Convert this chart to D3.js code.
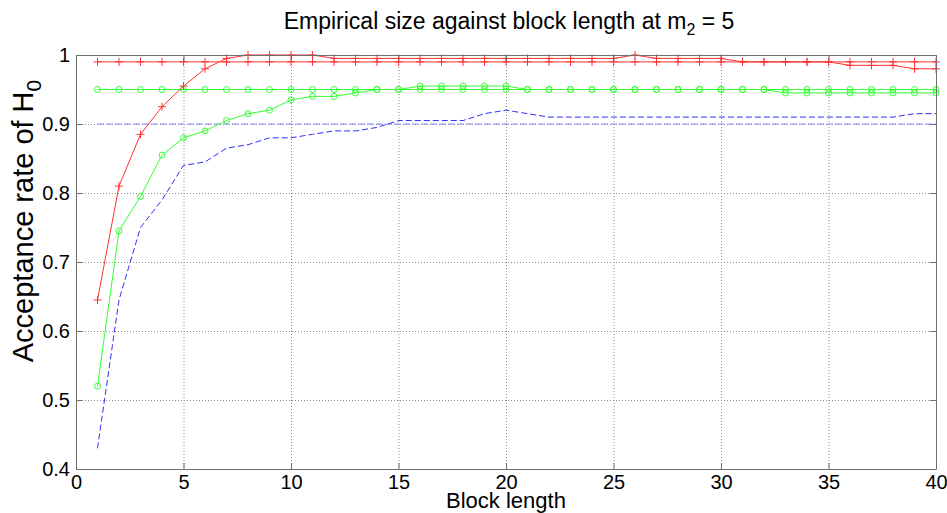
<!DOCTYPE html>
<html>
<head>
<meta charset="utf-8">
<script src="https://cdn.jsdelivr.net/npm/d3@7"></script>
<style>
  html, body { margin: 0; padding: 0; background: #fff; }
  svg { display: block; font-family: 'Liberation Sans', Arial, sans-serif; }
</style>
</head>
<body>
<svg id="chart" width="947" height="513"></svg>
<script>
const blockLengths = d3.range(1, 41);
const xTicks = [0, 5, 10, 15, 20, 25, 30, 35, 40];
const yTicks = [0.4, 0.5, 0.6, 0.7, 0.8, 0.9, 1];

// red '+' series and its nominal level
const redRate = [0.645, 0.81, 0.885, 0.925, 0.955, 0.98, 0.995, 1, 1, 1, 1,
  0.995, 0.995, 0.995, 0.995, 0.995, 0.995, 0.995, 0.995, 0.995, 0.995, 0.995, 0.995, 0.995, 0.995,
  1, 0.995, 0.995, 0.995, 0.995, 0.99, 0.99, 0.99, 0.99, 0.99, 0.985, 0.985, 0.985, 0.98, 0.98];
const redLevel = 0.99;

// green 'o' series and its nominal level
const greenRate = [0.52, 0.745, 0.795, 0.855, 0.88, 0.89, 0.905, 0.915, 0.92, 0.935, 0.94, 0.94, 0.945, 0.95, 0.95,
  0.955, 0.955, 0.955, 0.955, 0.955,
  0.95, 0.95, 0.95, 0.95, 0.95, 0.95, 0.95, 0.95, 0.95, 0.95, 0.95, 0.95,
  0.945, 0.945, 0.945, 0.945, 0.945, 0.945, 0.945, 0.945];
const greenLevel = 0.95;

// blue dashed series and its nominal level
const blueRate = [0.43, 0.645, 0.75, 0.79, 0.84, 0.845, 0.865, 0.87, 0.88, 0.88, 0.885, 0.89, 0.89, 0.895,
  0.905, 0.905, 0.905, 0.905, 0.915, 0.92, 0.915,
  0.91, 0.91, 0.91, 0.91, 0.91, 0.91, 0.91, 0.91, 0.91, 0.91, 0.91, 0.91, 0.91, 0.91, 0.91, 0.91, 0.91,
  0.915, 0.915];
const blueLevel = 0.9;

const margin = { left: 76, right: 11, top: 55, bottom: 44 };
const width = 947, height = 513;
const svg = d3.select('#chart');
const x = d3.scaleLinear().domain([0, 40]).range([margin.left, width - margin.right]);
const y = d3.scaleLinear().domain([0.4, 1]).range([height - margin.bottom, margin.top]);

const gridColor = '#8c8c8c';
const axisColor = '#6e6e6e';

// grid
xTicks.slice(1, -1).forEach(t => {
  svg.append('line').attr('x1', x(t) + 0.5).attr('x2', x(t) + 0.5).attr('y1', y(1)).attr('y2', y(0.4))
    .attr('stroke', gridColor).attr('stroke-width', 1).attr('stroke-dasharray', '1,2');
});
yTicks.slice(1, -1).forEach(t => {
  svg.append('line').attr('x1', x(0)).attr('x2', x(40)).attr('y1', Math.round(y(t)) + 0.5).attr('y2', Math.round(y(t)) + 0.5)
    .attr('stroke', gridColor).attr('stroke-width', 1).attr('stroke-dasharray', '1,2');
});

const line = d3.line().x((d, i) => x(blockLengths[i])).y(d => y(d));
const flat = v => blockLengths.map(() => v);

function drawSeries(values, color, dash, marker) {
  svg.append('path').datum(values).attr('d', line).attr('fill', 'none')
    .attr('stroke', color).attr('stroke-width', 1).attr('stroke-dasharray', dash);
  if (marker === 'plus') {
    values.forEach((v, i) => {
      const cx = x(blockLengths[i]), cy = y(v);
      svg.append('path').attr('d', `M${cx - 4},${cy}H${cx + 4}M${cx},${cy - 4}V${cy + 4}`)
        .attr('stroke', color).attr('stroke-width', 1).attr('fill', 'none');
    });
  } else if (marker === 'circle') {
    values.forEach((v, i) => {
      svg.append('circle').attr('cx', x(blockLengths[i])).attr('cy', y(v)).attr('r', 3)
        .attr('stroke', color).attr('stroke-width', 1).attr('fill', 'none');
    });
  }
}

drawSeries(flat(blueLevel), '#8080ff', '6,3', null);
drawSeries(blueRate, '#3030ff', '6,3', null);
drawSeries(flat(greenLevel), '#33ff33', null, 'circle');
drawSeries(greenRate, '#33ff33', null, 'circle');
drawSeries(flat(redLevel), '#ff3333', null, 'plus');
drawSeries(redRate, '#ff3333', null, 'plus');

// axes box with inward ticks
const xAxisB = d3.axisBottom(x).tickValues(xTicks).tickSizeInner(-6).tickSizeOuter(0).tickPadding(6).tickFormat(d3.format('d'));
const xAxisT = d3.axisTop(x).tickValues(xTicks).tickSizeInner(-6).tickSizeOuter(0).tickFormat('');
const yAxisL = d3.axisLeft(y).tickValues(yTicks).tickSizeInner(-6).tickSizeOuter(0).tickPadding(6).tickFormat(d => d === 1 ? '1' : d3.format('.1f')(d));
const yAxisR = d3.axisRight(y).tickValues(yTicks).tickSizeInner(-6).tickSizeOuter(0).tickFormat('');

function styleAxis(g) {
  g.selectAll('path, line').attr('stroke', axisColor);
  g.selectAll('text').attr('fill', '#000').attr('font-size', 20).attr('font-family', "'Liberation Sans', Arial, sans-serif");
}
svg.append('g').attr('transform', `translate(0,${y(0.4)})`).call(xAxisB).call(styleAxis);
svg.append('g').attr('transform', `translate(0,${y(1)})`).call(xAxisT).call(styleAxis);
svg.append('g').attr('transform', `translate(${x(0)},0)`).call(yAxisL).call(styleAxis);
svg.append('g').attr('transform', `translate(${x(40)},0)`).call(yAxisR).call(styleAxis);

// title and labels
const title = svg.append('text').attr('x', 509).attr('y', 29).attr('text-anchor', 'middle')
  .attr('font-size', 23).attr('fill', '#000');
title.append('tspan').text('Empirical size against block length at m');
title.append('tspan').attr('font-size', 16).attr('dy', 6).text('2');
title.append('tspan').attr('dy', -6).text(' = 5');

svg.append('text').attr('x', 506).attr('y', 508).attr('text-anchor', 'middle')
  .attr('font-size', 22).attr('fill', '#000').text('Block length');

const ylab = svg.append('text').attr('transform', `translate(33,221) rotate(-90)`)
  .attr('text-anchor', 'middle').attr('font-size', 29).attr('fill', '#000');
ylab.append('tspan').text('Acceptance rate of H');
ylab.append('tspan').attr('font-size', 21).attr('dy', 8).text('0');
</script>
</body>
</html>
